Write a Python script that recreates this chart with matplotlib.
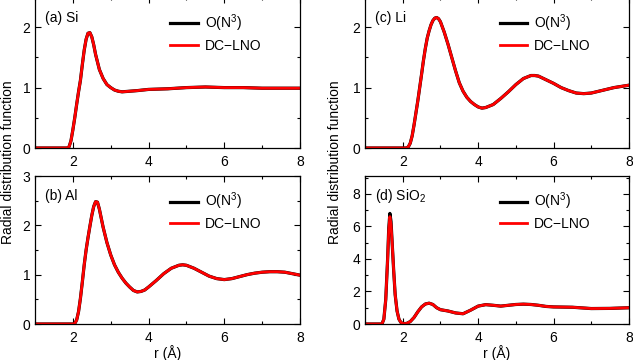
import matplotlib
matplotlib.use('Agg')
import matplotlib.pyplot as plt
from matplotlib.ticker import MultipleLocator

plt.rcParams['font.family'] = ['Liberation Sans', 'DejaVu Sans']
plt.rcParams['font.size'] = 10
plt.rcParams['mathtext.fontset'] = 'custom'
plt.rcParams['mathtext.rm'] = 'Liberation Sans'

# ---- data (r in Angstrom, g(r)) ----
r_si = [1.0, 1.85, 1.9, 1.95, 2.0, 2.05, 2.1, 2.15, 2.2, 2.25, 2.3, 2.35, 2.4,
        2.45, 2.5, 2.55, 2.6, 2.7, 2.8, 2.9, 3.0, 3.1, 3.2, 3.3, 3.5, 3.7, 4.0,
        4.5, 5.0, 5.5, 6.0, 6.5, 7.0, 7.5, 8.0]
g_si = [0, 0, 0.02, 0.12, 0.3, 0.5, 0.72, 0.93, 1.12, 1.38, 1.62, 1.8, 1.9,
        1.91, 1.84, 1.71, 1.55, 1.3, 1.15, 1.05, 1.0, 0.96, 0.94, 0.93, 0.94,
        0.95, 0.97, 0.98, 1.0, 1.01, 1.0, 1.0, 0.99, 0.99, 0.99]

r_al = [1, 2.0, 2.05, 2.1, 2.15, 2.2, 2.25, 2.3, 2.35, 2.4, 2.45, 2.5, 2.55,
        2.6, 2.65, 2.7, 2.8, 2.9, 3.0, 3.1, 3.2, 3.3, 3.4, 3.5, 3.6, 3.7, 3.8,
        3.9, 4.0, 4.2, 4.4, 4.6, 4.8, 4.9, 5.0, 5.2, 5.4, 5.6, 5.8, 6.0, 6.2,
        6.4, 6.6, 6.8, 7.0, 7.2, 7.4, 7.6, 7.8, 8.0]
g_al = [0, 0, 0.01, 0.08, 0.25, 0.52, 0.85, 1.2, 1.5, 1.75, 1.98, 2.2, 2.38,
        2.48, 2.47, 2.33, 1.96, 1.65, 1.4, 1.2, 1.05, 0.93, 0.83, 0.75, 0.68,
        0.65, 0.66, 0.69, 0.75, 0.88, 1.02, 1.13, 1.19, 1.2, 1.19, 1.13, 1.05,
        0.97, 0.92, 0.9, 0.92, 0.96, 1.0, 1.03, 1.05, 1.06, 1.06, 1.05, 1.02, 0.99]

r_li = [1, 2.1, 2.15, 2.2, 2.25, 2.3, 2.35, 2.4, 2.45, 2.5, 2.55, 2.6, 2.65,
        2.7, 2.75, 2.8, 2.85, 2.9, 2.95, 3.0, 3.1, 3.2, 3.3, 3.4, 3.5, 3.6,
        3.7, 3.8, 3.9, 4.0, 4.1, 4.2, 4.4, 4.6, 4.8, 5.0, 5.2, 5.4, 5.5, 5.6,
        5.8, 6.0, 6.2, 6.4, 6.6, 6.8, 7.0, 7.2, 7.4, 7.6, 7.8, 8.0]
g_li = [0, 0, 0.02, 0.08, 0.2, 0.38, 0.58, 0.78, 1.0, 1.22, 1.45, 1.65, 1.82,
        1.94, 2.04, 2.11, 2.15, 2.16, 2.14, 2.09, 1.92, 1.72, 1.5, 1.28, 1.08,
        0.94, 0.84, 0.77, 0.72, 0.68, 0.66, 0.67, 0.72, 0.82, 0.93, 1.05, 1.15,
        1.2, 1.2, 1.19, 1.13, 1.07, 1.0, 0.95, 0.91, 0.9, 0.91, 0.94, 0.97,
        1.0, 1.02, 1.04]

r_sio2 = [1, 1.45, 1.5, 1.55, 1.6, 1.63, 1.66, 1.69, 1.72, 1.76, 1.8, 1.85,
          1.9, 1.95, 2.0, 2.1, 2.2, 2.3, 2.4, 2.5, 2.6, 2.7, 2.8, 2.9, 3.0,
          3.2, 3.4, 3.6, 3.8, 4.0, 4.2, 4.4, 4.6, 4.8, 5.0, 5.2, 5.4, 5.6,
          5.8, 6.0, 6.5, 7.0, 7.5, 8.0]
g_sio2_on3 = [0, 0, 0.3, 1.5, 4.0, 5.9, 6.8, 6.3, 5.0, 3.3, 1.8, 0.8, 0.3, 0.1,
              0.03, 0.03, 0.15, 0.4, 0.75, 1.05, 1.23, 1.28, 1.2, 1.0, 0.88,
              0.8, 0.68, 0.63, 0.85, 1.1, 1.19, 1.15, 1.1, 1.15, 1.2, 1.22,
              1.2, 1.15, 1.08, 1.05, 1.03, 0.95, 0.96, 1.0]
g_sio2_dc = [0, 0, 0.3, 1.5, 4.0, 5.8, 6.6, 6.1, 5.0, 3.3, 1.8, 0.8, 0.3, 0.1,
             0.03, 0.03, 0.15, 0.4, 0.75, 1.05, 1.23, 1.28, 1.2, 1.0, 0.88,
             0.8, 0.68, 0.63, 0.85, 1.1, 1.19, 1.15, 1.1, 1.15, 1.2, 1.22,
             1.2, 1.15, 1.08, 1.05, 1.03, 0.95, 0.96, 1.0]

labels = ['(a) Si', '(b) Al', '(c) Li', '(d) SiO$_2$']
ylims = [(0, 2.5), (0, 3), (0, 2.5), (0, 9.1)]
ymajor = [1, 1, 1, 2]
yminor = [0.5, 0.5, 0.5, 1]

W, H = 633, 360
fig = plt.figure(figsize=(W / 100, H / 100), dpi=100)

# panel boxes in pixels: left, top, right, bottom
boxes = [(35, -3, 300, 148), (35, 176, 300, 324),
         (365, -3, 629, 148), (365, 176, 629, 324)]
data = [(r_si, g_si, g_si), (r_al, g_al, g_al),
        (r_li, g_li, g_li), (r_sio2, g_sio2_on3, g_sio2_dc)]

axes = []
for i, (l, t, rr, b) in enumerate(boxes):
    ax = fig.add_axes([l / W, 1 - b / H, (rr - l) / W, (b - t) / H])
    x, y1, y2 = data[i]
    ax.plot(x, y1, color='black', lw=2.3, label='O(N$^3$)')
    ax.plot(x, y2, color='red', lw=2.0, label='DC\u2212LNO')
    ax.set_xlim(1, 8)
    ax.set_ylim(*ylims[i])
    ax.xaxis.set_major_locator(MultipleLocator(2))
    ax.xaxis.set_minor_locator(MultipleLocator(1))
    ax.yaxis.set_major_locator(MultipleLocator(ymajor[i]))
    ax.yaxis.set_minor_locator(MultipleLocator(yminor[i]))
    ax.tick_params(which='both', direction='in', top=True, right=True,
                   labelsize=10, width=0.8)
    ax.tick_params(which='major', length=4)
    ax.tick_params(which='minor', length=2.5)
    ax.tick_params(axis='x', pad=5)
    for s in ax.spines.values():
        s.set_linewidth(0.9)
    yl = 0.86 if i in (0, 2) else 0.865
    ax.text(0.038, yl, labels[i], transform=ax.transAxes, va='center',
            ha='left', fontsize=10)
    ax.legend(loc='upper left', bbox_to_anchor=(0.51, 0.90), frameon=False,
              handlelength=2.0, handletextpad=0.5, labelspacing=0.35,
              borderpad=0, borderaxespad=0, fontsize=10)
    if i in (1, 3):
        ax.set_xlabel('r (\u00c5)', labelpad=0)
    axes.append(ax)

fig.text(8 / W, 1 - 162 / H, 'Radial distribution function', rotation=90,
         va='center', ha='center', fontsize=10)
fig.text(335 / W, 1 - 162 / H, 'Radial distribution function', rotation=90,
         va='center', ha='center', fontsize=10)

fig.savefig('out.png', dpi=100)
